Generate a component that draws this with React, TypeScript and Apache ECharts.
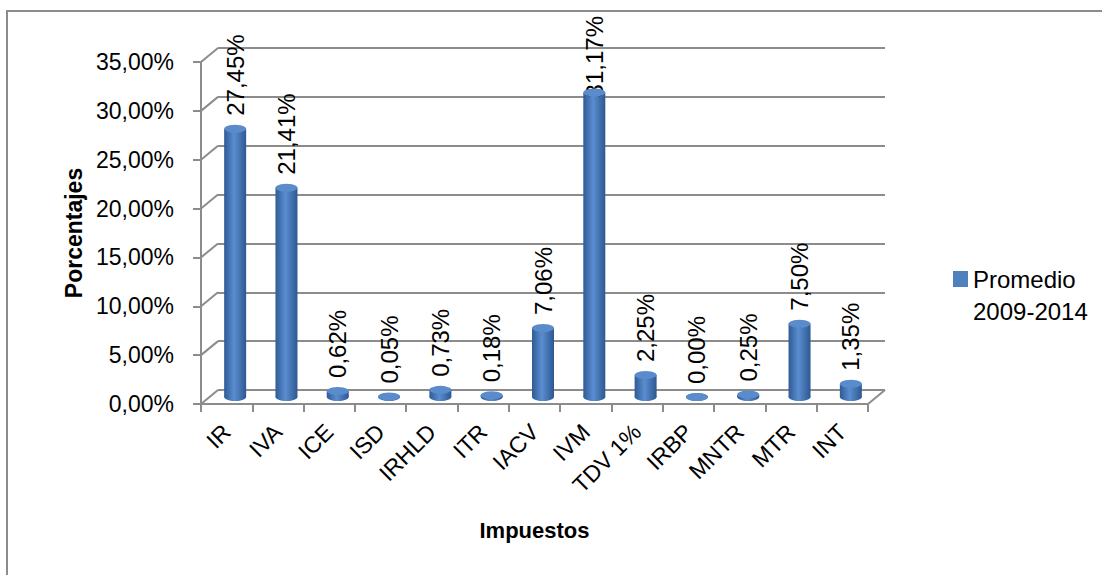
import React, { useEffect, useRef } from "react";
import * as echarts from "echarts";

// Tax categories and their average share (%) for 2009-2014
const categories = ["IR", "IVA", "ICE", "ISD", "IRHLD", "ITR", "IACV", "IVM", "TDV 1%", "IRBP", "MNTR", "MTR", "INT"];
const values = [27.45, 21.41, 0.62, 0.05, 0.73, 0.18, 7.06, 31.17, 2.25, 0.0, 0.25, 7.5, 1.35];
const yTicks = [0, 5, 10, 15, 20, 25, 30, 35];
const seriesName = "Promedio 2009-2014";

const FONT = "'Liberation Sans', Arial, sans-serif";
const GRID_COLOR = "#8c8c8c";
const LABEL_SIZE = 24;

// Front plane of the pseudo-3D box and depth offset of the back wall
const FRONT = { left: 201, top: 62, width: 667, height: 342 };
const DEPTH = { dx: 17, dy: -14 };
const LABEL_GAP = 13;
const LABEL_MIN_TOP = 16;

const pct = (v: number) => v.toFixed(2).replace(".", ",") + "%";

const bodyGradient = new echarts.graphic.LinearGradient(0, 0, 1, 0, [
  { offset: 0, color: "#2f5b95" },
  { offset: 0.45, color: "#5a8dd0" },
  { offset: 1, color: "#2d5891" },
]);

function measure(text: string): number {
  const ctx = document.createElement("canvas").getContext("2d");
  if (!ctx) return text.length * LABEL_SIZE * 0.55;
  ctx.font = `${LABEL_SIZE}px ${FONT}`;
  return ctx.measureText(text).width;
}

export default function App() {
  const ref = useRef<HTMLDivElement>(null);

  useEffect(() => {
    if (!ref.current) return;
    const chart = echarts.init(ref.current, null, { renderer: "svg" });

    const grids = [0, 0.5, 1].map((k) => ({
      left: FRONT.left + DEPTH.dx * k,
      top: FRONT.top + DEPTH.dy * k,
      width: FRONT.width,
      height: FRONT.height,
    }));

    const hiddenX = (i: number) => ({ type: "category", gridIndex: i, data: categories, show: false });
    const valueRange = { type: "value", min: 0, max: 35, interval: 5 };

    chart.setOption({
      animation: false,
      backgroundColor: "#ffffff",
      graphic: [
        {
          type: "rect",
          z: 0,
          shape: { x: 7, y: 11, width: 1300, height: 800 },
          style: { fill: "none", stroke: "#8c8c8c", lineWidth: 2 },
          silent: true,
        },
      ],
      grid: grids,
      legend: {
        data: [{ name: seriesName, itemStyle: { color: "#4F81BD" } }],
        icon: "rect",
        left: 948,
        top: 226,
        itemWidth: 15,
        itemHeight: 16,
        // an empty first row keeps the swatch level with the first line of the name
        formatter: (name: string) => {
          const [a, b] = name.split(" ");
          return `{pad| }\n{t|${a}}\n{t|${b}}`;
        },
        textStyle: {
          fontFamily: FONT,
          fontSize: 24,
          color: "#000",
          rich: {
            pad: { fontSize: 24, lineHeight: 32, height: 32 },
            t: { fontFamily: FONT, fontSize: 24, color: "#000", lineHeight: 32 },
          },
        },
      },
      xAxis: [
        {
          type: "category",
          gridIndex: 0,
          data: categories,
          axisLine: { lineStyle: { color: GRID_COLOR, width: 2 } },
          axisTick: { show: true, length: 8, lineStyle: { color: GRID_COLOR, width: 2 } },
          axisLabel: {
            rotate: 45,
            margin: 24,
            interval: 0,
            fontFamily: FONT,
            fontSize: 23,
            color: "#000",
          },
          name: "Impuestos",
          nameLocation: "middle",
          nameGap: 115,
          nameTextStyle: { fontFamily: FONT, fontSize: 22, fontWeight: "bold", color: "#000" },
        },
        hiddenX(1),
        hiddenX(2),
      ],
      yAxis: [
        {
          ...valueRange,
          gridIndex: 0,
          axisLine: { show: true, lineStyle: { color: GRID_COLOR, width: 2 } },
          axisTick: { show: true, length: 8, lineStyle: { color: GRID_COLOR, width: 2 } },
          splitLine: { show: false },
          axisLabel: {
            margin: 27,
            formatter: (v: number) => pct(v),
            fontFamily: FONT,
            fontSize: 23,
            color: "#000",
          },
          name: "Porcentajes",
          nameLocation: "middle",
          nameGap: 113,
          nameRotate: 90,
          nameTextStyle: { fontFamily: FONT, fontSize: 23, fontWeight: "bold", color: "#000" },
        },
        { ...valueRange, gridIndex: 1, show: false },
        {
          ...valueRange,
          gridIndex: 2,
          axisLine: { show: false },
          axisTick: { show: false },
          axisLabel: { show: false },
          splitLine: { show: true, lineStyle: { color: GRID_COLOR, width: 2 } },
        },
      ],
      series: [
        {
          // side-wall diagonals at each tick, plus the floor's right edge
          type: "custom",
          xAxisIndex: 0,
          yAxisIndex: 0,
          silent: true,
          z: 1,
          data: yTicks.map((v) => [0, v]),
          renderItem: (params: any, api: any) => {
            const cs = params.coordSys;
            const y = api.coord([0, api.value(1)])[1];
            const style = { stroke: GRID_COLOR, lineWidth: 2 };
            const children: any[] = [
              { type: "line", shape: { x1: cs.x, y1: y, x2: cs.x + DEPTH.dx, y2: y + DEPTH.dy }, style },
            ];
            if (api.value(1) === 0) {
              const xr = cs.x + cs.width;
              children.push({ type: "line", shape: { x1: xr, y1: y, x2: xr + DEPTH.dx, y2: y + DEPTH.dy }, style });
            }
            return { type: "group", children };
          },
        },
        {
          // bottom caps of the cylinders
          type: "pictorialBar",
          xAxisIndex: 1,
          yAxisIndex: 1,
          silent: true,
          symbol: "circle",
          symbolSize: [22, 8],
          symbolPosition: "start",
          symbolOffset: [0, "50%"],
          itemStyle: { color: bodyGradient },
          z: 2,
          data: values,
        },
        {
          id: "cylinders",
          name: seriesName,
          type: "bar",
          xAxisIndex: 1,
          yAxisIndex: 1,
          barWidth: 22,
          itemStyle: { color: bodyGradient },
          z: 3,
          data: values,
          label: {
            show: true,
            position: "top",
            distance: LABEL_GAP,
            rotate: 90,
            align: "left",
            verticalAlign: "middle",
            formatter: (p: any) => pct(p.value),
            fontFamily: FONT,
            fontSize: LABEL_SIZE,
            color: "#000",
          },
        },
        {
          // top caps of the cylinders
          type: "pictorialBar",
          xAxisIndex: 1,
          yAxisIndex: 1,
          silent: true,
          symbol: "circle",
          symbolSize: [22, 8],
          symbolPosition: "end",
          symbolOffset: [0, "-50%"],
          itemStyle: { color: "#5a8bcb" },
          z: 4,
          data: values,
        },
      ],
    });

    // Tall labels would run past the chart's frame: pull them down onto the bar instead
    const adjusted = values.map((v, i) => {
      const top = chart.convertToPixel({ gridIndex: 1 } as any, [i, v]) as number[];
      const len = measure(pct(v));
      const room = top[1] - LABEL_MIN_TOP - len;
      return room < LABEL_GAP ? { value: v, label: { distance: room } } : v;
    });
    chart.setOption({ series: [{ id: "cylinders", data: adjusted }] });

    return () => chart.dispose();
  }, []);

  return (
    <div
      ref={ref}
      style={{ position: "absolute", left: 0, top: 0, width: 1102, height: 575, background: "#fff" }}
    />
  );
}
